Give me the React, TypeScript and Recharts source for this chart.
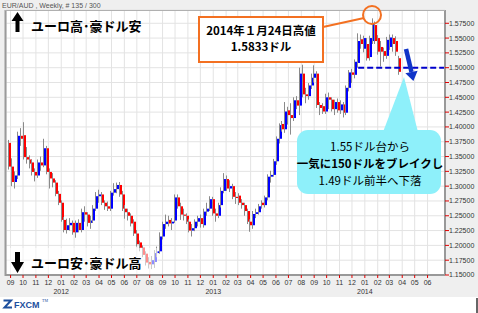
import React from "react";
import {
  ComposedChart,
  Bar,
  XAxis,
  YAxis,
  CartesianGrid,
  ReferenceLine,
} from "recharts";

// EUR/AUD weekly, one candle per week starting from this Monday
const firstWeek = "2011-08-29";

const opens = [
  1.373, 1.333, 1.307, 1.318, 1.385, 1.386, 1.349, 1.345, 1.340, 1.324,
  1.318, 1.340, 1.335, 1.364, 1.324, 1.313, 1.306, 1.287, 1.272, 1.243,
  1.226, 1.234, 1.238, 1.222, 1.238, 1.226, 1.256, 1.252, 1.238, 1.242,
  1.262, 1.283, 1.286, 1.272, 1.266, 1.262, 1.289, 1.295, 1.302, 1.286,
  1.262, 1.256, 1.250, 1.240, 1.220, 1.205, 1.196, 1.186, 1.172, 1.168,
  1.172, 1.187, 1.190, 1.215, 1.236, 1.243, 1.237, 1.242, 1.281, 1.266,
  1.252, 1.250, 1.240, 1.225, 1.229, 1.240, 1.246, 1.234, 1.257, 1.262,
  1.278, 1.254, 1.250, 1.268, 1.292, 1.312, 1.296, 1.300, 1.282, 1.284,
  1.272, 1.268, 1.258, 1.240, 1.234, 1.253, 1.256, 1.272, 1.268, 1.281,
  1.316, 1.319, 1.342, 1.380, 1.405, 1.396, 1.428, 1.420, 1.415, 1.445,
  1.436, 1.490, 1.455, 1.452, 1.470, 1.483, 1.490, 1.437, 1.435, 1.426,
  1.450, 1.446, 1.430, 1.442, 1.428, 1.438, 1.424, 1.466, 1.492, 1.488,
  1.508, 1.548, 1.532, 1.540, 1.518, 1.545, 1.572, 1.550, 1.535, 1.528,
  1.520, 1.535, 1.550, 1.545, 1.516,
];
const highs = [
  1.378, 1.347, 1.325, 1.392, 1.398, 1.408, 1.366, 1.352, 1.345, 1.330,
  1.345, 1.350, 1.380, 1.368, 1.330, 1.322, 1.310, 1.292, 1.276, 1.248,
  1.245, 1.246, 1.242, 1.242, 1.244, 1.262, 1.266, 1.256, 1.250, 1.268,
  1.290, 1.294, 1.290, 1.276, 1.274, 1.292, 1.305, 1.306, 1.307, 1.292,
  1.268, 1.262, 1.254, 1.244, 1.226, 1.208, 1.200, 1.190, 1.180, 1.182,
  1.192, 1.198, 1.222, 1.240, 1.252, 1.250, 1.246, 1.286, 1.286, 1.272,
  1.262, 1.254, 1.244, 1.236, 1.244, 1.250, 1.252, 1.262, 1.272, 1.283,
  1.282, 1.262, 1.272, 1.298, 1.322, 1.318, 1.310, 1.304, 1.290, 1.288,
  1.278, 1.272, 1.262, 1.244, 1.258, 1.262, 1.270, 1.276, 1.284, 1.320,
  1.326, 1.346, 1.384, 1.406, 1.410, 1.442, 1.434, 1.440, 1.450, 1.452,
  1.500, 1.505, 1.466, 1.474, 1.490, 1.504, 1.494, 1.442, 1.440, 1.456,
  1.458, 1.450, 1.446, 1.448, 1.445, 1.442, 1.470, 1.496, 1.498, 1.514,
  1.558, 1.556, 1.554, 1.550, 1.554, 1.5833, 1.578, 1.555, 1.545, 1.534,
  1.552, 1.556, 1.556, 1.553, 1.520,
];
const lows = [
  1.328, 1.300, 1.296, 1.312, 1.368, 1.345, 1.338, 1.330, 1.318, 1.308,
  1.314, 1.326, 1.332, 1.320, 1.296, 1.298, 1.283, 1.268, 1.240, 1.222,
  1.220, 1.225, 1.218, 1.213, 1.222, 1.222, 1.240, 1.232, 1.228, 1.238,
  1.258, 1.272, 1.268, 1.260, 1.258, 1.258, 1.284, 1.288, 1.282, 1.258,
  1.245, 1.242, 1.232, 1.216, 1.198, 1.190, 1.180, 1.166, 1.161, 1.160,
  1.162, 1.180, 1.186, 1.210, 1.228, 1.232, 1.226, 1.238, 1.262, 1.243,
  1.242, 1.236, 1.222, 1.215, 1.224, 1.232, 1.230, 1.230, 1.250, 1.258,
  1.250, 1.240, 1.246, 1.264, 1.288, 1.292, 1.290, 1.278, 1.270, 1.268,
  1.262, 1.250, 1.236, 1.223, 1.228, 1.246, 1.252, 1.262, 1.264, 1.276,
  1.306, 1.316, 1.336, 1.372, 1.392, 1.390, 1.404, 1.387, 1.410, 1.430,
  1.420, 1.450, 1.440, 1.446, 1.464, 1.475, 1.432, 1.420, 1.422, 1.422,
  1.430, 1.426, 1.420, 1.424, 1.422, 1.416, 1.420, 1.460, 1.474, 1.482,
  1.500, 1.532, 1.526, 1.512, 1.512, 1.540, 1.540, 1.522, 1.502, 1.510,
  1.515, 1.530, 1.527, 1.520, 1.488,
];
const closes = [
  1.333, 1.307, 1.318, 1.385, 1.380, 1.349, 1.345, 1.338, 1.324, 1.318,
  1.340, 1.335, 1.364, 1.324, 1.313, 1.306, 1.287, 1.272, 1.243, 1.226,
  1.234, 1.238, 1.222, 1.238, 1.226, 1.256, 1.252, 1.238, 1.242, 1.262,
  1.283, 1.286, 1.272, 1.266, 1.262, 1.289, 1.295, 1.302, 1.286, 1.262,
  1.256, 1.250, 1.237, 1.220, 1.202, 1.196, 1.184, 1.171, 1.168, 1.175,
  1.187, 1.190, 1.215, 1.236, 1.240, 1.237, 1.240, 1.281, 1.266, 1.252,
  1.250, 1.240, 1.225, 1.229, 1.240, 1.246, 1.236, 1.257, 1.262, 1.278,
  1.254, 1.250, 1.268, 1.292, 1.312, 1.296, 1.300, 1.282, 1.280, 1.272,
  1.268, 1.258, 1.240, 1.234, 1.253, 1.256, 1.266, 1.268, 1.281, 1.316,
  1.319, 1.342, 1.380, 1.403, 1.396, 1.426, 1.420, 1.415, 1.445, 1.436,
  1.490, 1.455, 1.452, 1.470, 1.483, 1.490, 1.437, 1.432, 1.426, 1.450,
  1.446, 1.430, 1.442, 1.428, 1.438, 1.424, 1.466, 1.492, 1.488, 1.510,
  1.545, 1.540, 1.550, 1.516, 1.550, 1.575, 1.545, 1.527, 1.527, 1.520,
  1.547, 1.551, 1.540, 1.527, 1.493,
];

const months = [
  "2011-09", "2011-10", "2011-11", "2011-12",
  "2012-01", "2012-02", "2012-03", "2012-04", "2012-05", "2012-06",
  "2012-07", "2012-08", "2012-09", "2012-10", "2012-11", "2012-12",
  "2013-01", "2013-02", "2013-03", "2013-04", "2013-05", "2013-06",
  "2013-07", "2013-08", "2013-09", "2013-10", "2013-11", "2013-12",
  "2014-01", "2014-02", "2014-03", "2014-04", "2014-05", "2014-06",
];

const priceTicks = [
  1.15, 1.175, 1.2, 1.225, 1.25, 1.275, 1.3, 1.325, 1.35, 1.375, 1.4,
  1.425, 1.45, 1.475, 1.5, 1.525, 1.55, 1.575,
];

const breakLevel = 1.5;
const breakFromWeek = 120;

const DAY = 86400000;
const toUtc = (s: string) => {
  const [y, m, d] = s.split("-").map(Number);
  return Date.UTC(y, m - 1, d || 1);
};
const base = toUtc(firstWeek);
const dayNo = (s: string) => (toUtc(s) - base) / DAY;

const candles = closes.map((c, i) => ({
  t: i * 7,
  open: opens[i],
  high: highs[i],
  low: lows[i],
  close: c,
}));

const monthTicks = months.map((m) => dayNo(m + "-01"));
const X_DOMAIN: [number, number] = [-8, 1049];

const jp = "'Noto Sans CJK JP', sans-serif";

function Candle(props: any) {
  const { x, y, width, height, payload } = props;
  if (x == null || y == null) return null;
  const top = Math.min(y, y + height);
  const bot = Math.max(y, y + height);
  const { open, close, high, low } = payload;
  const span = high - low || 1;
  const py = (v: number) => top + ((high - v) / span) * (bot - top);
  const cx = Math.round(x + width / 2);
  const up = close >= open;
  const bt = py(Math.max(open, close));
  const bb = py(Math.min(open, close));
  return (
    <g>
      <line x1={cx - 0.5} x2={cx - 0.5} y1={top} y2={bot} stroke="#8a8a8a" strokeWidth={1} />
      <rect x={cx} y={bt} width={2} height={Math.max(1, bb - bt)} fill={up ? "#0000ff" : "#ff0000"} />
    </g>
  );
}

function MonthTick(props: any) {
  const { x, y, payload } = props;
  const i = monthTicks.indexOf(payload.value);
  if (i < 0) return null;
  const [yr, mo] = months[i].split("-");
  return (
    <g>
      <text x={x} y={y} dy={5} textAnchor="middle" fontSize={7} fill="#333">
        {mo}
      </text>
      {mo === "01" && (
        <text x={x} y={y} dy={14} textAnchor="middle" fontSize={7} fill="#333">
          {yr}
        </text>
      )}
    </g>
  );
}

export default function App() {
  return (
    <div style={{ position: "absolute", left: 0, top: 0, width: 478, height: 313, background: "#fff" }}>
      <div style={{ position: "absolute", left: 0, top: 0, width: 478, height: 297, background: "#efefef" }} />
      <div style={{ position: "absolute", left: 0, top: 0 }}>
        <ComposedChart
          width={478}
          height={313}
          data={candles}
          margin={{ top: 10, right: 0, bottom: 0, left: 6 }}
          style={{ fontFamily: "'Liberation Sans', Arial, sans-serif" }}
        >
          <CartesianGrid stroke="#e3e3e3" fill="#ffffff" />
          <XAxis
            type="number"
            dataKey="t"
            domain={X_DOMAIN}
            allowDataOverflow
            ticks={monthTicks}
            interval={0}
            height={38}
            tickSize={3}
            tickMargin={2}
            tickLine={{ stroke: "#e00000" }}
            axisLine={{ stroke: "#999", strokeWidth: 2 }}
            tick={<MonthTick />}
          />
          <YAxis
            orientation="right"
            domain={[1.15, 1.5974]}
            allowDataOverflow
            ticks={priceTicks}
            interval={0}
            width={33}
            tickSize={4}
            tickMargin={0}
            tickLine={{ stroke: "#e00000" }}
            axisLine={{ stroke: "#999", strokeWidth: 2 }}
            tick={{ fontSize: 7, fill: "#333" }}
            tickFormatter={(v: number) => v.toFixed(5)}
          />
          <Bar
            dataKey={(d: any) => [d.low, d.high]}
            barSize={3}
            shape={<Candle />}
            isAnimationActive={false}
          />
          <ReferenceLine
            segment={[
              { x: candles[breakFromWeek].t, y: breakLevel },
              { x: X_DOMAIN[1], y: breakLevel },
            ]}
            stroke="#0000cc"
            strokeWidth={2}
            strokeDasharray="6 3"
          />
        </ComposedChart>
      </div>

      <svg
        width={478}
        height={313}
        style={{ position: "absolute", left: 0, top: 0, pointerEvents: "none" }}
      >
        {/* frame */}
        <line x1={5.5} x2={5.5} y1={10} y2={276} stroke="#9a9a9a" strokeWidth={2} />
        <line x1={5} x2={445} y1={10.5} y2={10.5} stroke="#b0b0b0" strokeWidth={1} />
        <text x={2} y={8} fontSize={7} fill="#555" fontFamily="'Liberation Sans', Arial, sans-serif">
          EUR/AUD , Weekly, # 135 / 300
        </text>

        {/* faded area behind lower label */}
        <rect x={7} y={248} width={151} height={26} fill="#fff" opacity={0.55} />

        {/* top label */}
        <polygon points="17.5,12 11.5,21 15.5,21 15.5,32 19.5,32 19.5,21 23.5,21" fill="#000" />
        <text x={31} y={31} fontSize={13} fontWeight="bold" fontFamily={jp} fill="#000">
          ユーロ高･豪ドル安
        </text>

        {/* bottom label */}
        <polygon points="15,252 20,252 20,262 24,262 17.5,273 11,262 15,262" fill="#000" />
        <text x={31} y={268} fontSize={13} fontWeight="bold" fontFamily={jp} fill="#000">
          ユーロ安･豪ドル高
        </text>

        {/* peak callout */}
        <line x1={323} y1={27} x2={364} y2={18} stroke="#f37021" strokeWidth={2} />
        <circle cx={372} cy={15} r={9} fill="none" stroke="#f37021" strokeWidth={2} />
        <rect x={199} y={17} width={124} height={45} fill="#fff" stroke="#f37021" strokeWidth={2} />
        <text x={261} y={35} textAnchor="middle" fontSize={11.5} fontWeight="bold" fontFamily={jp}>
          2014年１月24日高値
        </text>
        <text x={261} y={51} textAnchor="middle" fontSize={11.5} fontWeight="bold" fontFamily={jp}>
          1.5833ドル
        </text>

        {/* blue arrow */}
        <line x1={406} y1={49} x2={411.5} y2={72} stroke="#1034c8" strokeWidth={4.5} />
        <polygon points="405.4,73.3 417.6,70.7 413.4,81" fill="#1034c8" />

        {/* cyan bubble */}
        <polygon points="383,132 418,132 404,77" fill="#8ef0fa" />
        <rect x={297} y={130} width={144} height={64} rx={11} fill="#8ef0fa" />
        <text x={370} y={151} textAnchor="middle" fontSize={11.5} fontFamily={jp} fill="#000">
          1.55ドル台から
        </text>
        <text x={370} y={168} textAnchor="middle" fontSize={11.5} fontWeight="bold" fontFamily={jp} fill="#000">
          一気に150ドルをブレイクし
        </text>
        <text x={370} y={185} textAnchor="middle" fontSize={11.5} fontFamily={jp} fill="#000">
          1.49ドル前半へ下落
        </text>

        {/* logo */}
        <path d="M3.5 300.5 H11 L4.5 307.5 H12" fill="none" stroke="#1d4f9e" strokeWidth={2} />
        <text x={14} y={308} fontSize={9} fontWeight="bold" fill="#1d4f9e" fontFamily="'Liberation Sans', Arial, sans-serif">
          FXCM
        </text>
        <text x={42} y={302} fontSize={4} fill="#1d4f9e">TM</text>
        <line x1={477} x2={477} y1={298} y2={313} stroke="#333" strokeWidth={1.5} />
      </svg>
    </div>
  );
}
